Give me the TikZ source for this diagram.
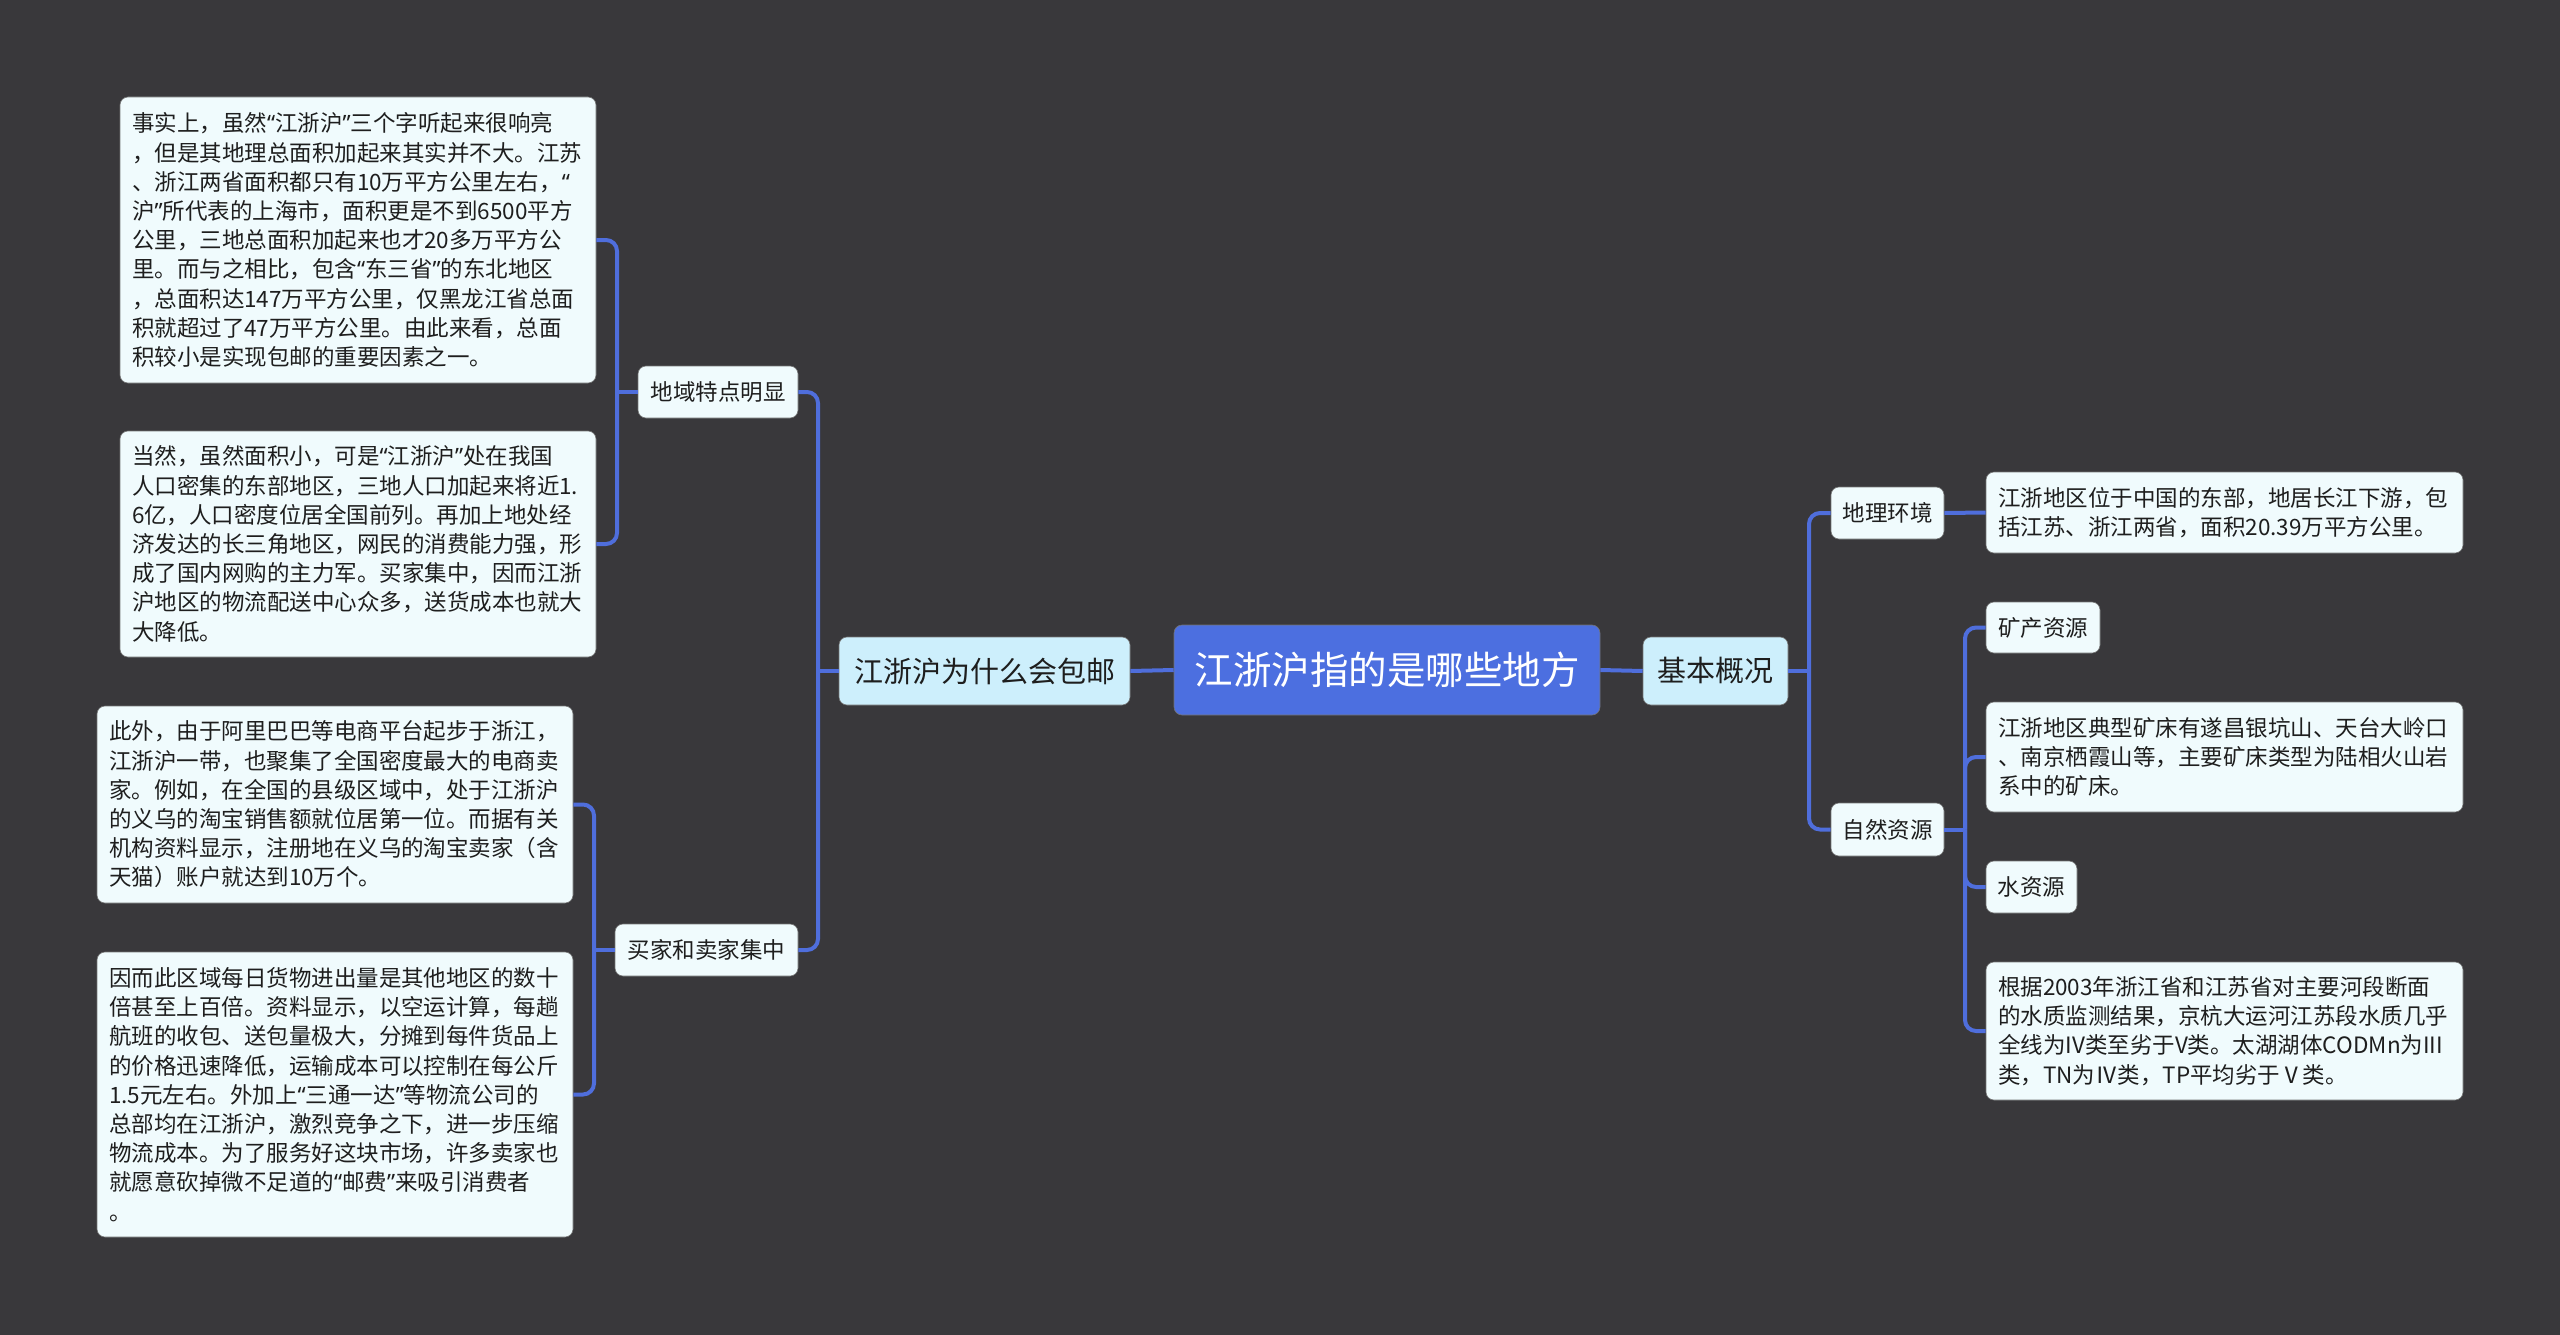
\documentclass[tikz,border=0pt]{standalone}
\usepackage{fontspec}
\setmainfont{Noto Sans CJK SC}
\newfontfamily\qfont{Noto Sans}
\newcommand\oq{{\qfont “}}
\newcommand\cq{{\qfont ”}}
\definecolor{bg}{HTML}{39383B}
\definecolor{rootc}{HTML}{4C6FE0}
\definecolor{linec}{HTML}{4F6EDC}
\definecolor{lonefill}{HTML}{CDEFFC}
\definecolor{leaffill}{HTML}{F0FBFD}
\definecolor{txt}{HTML}{1E1E1E}
\tikzset{
  box/.style={rectangle, rounded corners=8pt, inner sep=0pt, draw=black!55, line width=0.6pt},
  rootbox/.style={box, fill=rootc, text=white, font=\fontsize{38.5}{46}\selectfont},
  lonebox/.style={box, fill=lonefill, text=txt, font=\fontsize{29}{35}\selectfont},
  ltwobox/.style={box, fill=leaffill, text=txt, font=\fontsize{22.5}{29.2}\selectfont},
  leafbox/.style={box, fill=leaffill, text=txt, align=left, inner xsep=12pt,
     text width=#1, font=\fontsize{22.5}{29.2}\selectfont},
  conn/.style={draw=linec, line width=4pt, rounded corners=11pt},
}
\begin{document}
\begin{tikzpicture}[x=1pt,y=-1pt]
\fill[bg] (0,0) rectangle (2560,1335);
\useasboundingbox (0,0) rectangle (2560,1335);

% nodes
\node[rootbox, minimum width=426pt, minimum height=90pt] (root) at (1387,670) {江浙沪指的是哪些地方};
\node[lonebox, minimum width=291pt, minimum height=68pt] (why) at (984.5,671) {江浙沪为什么会包邮};
\node[lonebox, minimum width=145pt, minimum height=68pt] (jb) at (1715.5,671) {基本概况};

\node[ltwobox, minimum width=160pt, minimum height=52pt] (dy) at (718,392) {地域特点明显};
\node[ltwobox, minimum width=183pt, minimum height=52pt] (mj) at (706.5,950) {买家和卖家集中};
\node[ltwobox, minimum width=113pt, minimum height=52pt] (dl) at (1887.5,513) {地理环境};
\node[ltwobox, minimum width=113pt, minimum height=53pt] (zr) at (1887.5,829.5) {自然资源};
\node[ltwobox, minimum width=114pt, minimum height=51pt] (ks) at (2043,627.5) {矿产资源};
\node[ltwobox, minimum width=91pt, minimum height=52pt] (ss) at (2031.5,887) {水资源};

\node[leafbox=452pt, minimum height=286pt] (la) at (358,240) {%
事实上，虽然\oq 江浙沪\cq 三个字听起来很响亮\\
，但是其地理总面积加起来其实并不大。江苏\\
、浙江两省面积都只有10万平方公里左右，\oq\\
沪\cq 所代表的上海市，面积更是不到6500平方\\
公里，三地总面积加起来也才20多万平方公\\
里。而与之相比，包含\oq 东三省\cq 的东北地区\\
，总面积达147万平方公里，仅黑龙江省总面\\
积就超过了47万平方公里。由此来看，总面\\
积较小是实现包邮的重要因素之一。};

\node[leafbox=452pt, minimum height=226pt] (lb) at (358,544) {%
当然，虽然面积小，可是\oq 江浙沪\cq 处在我国\\
人口密集的东部地区，三地人口加起来将近1.\\
6亿，人口密度位居全国前列。再加上地处经\\
济发达的长三角地区，网民的消费能力强，形\\
成了国内网购的主力军。买家集中，因而江浙\\
沪地区的物流配送中心众多，送货成本也就大\\
大降低。};

\node[leafbox=452pt, minimum height=197pt] (lc) at (335,804.5) {%
此外，由于阿里巴巴等电商平台起步于浙江，\\
江浙沪一带，也聚集了全国密度最大的电商卖\\
家。例如，在全国的县级区域中，处于江浙沪\\
的义乌的淘宝销售额就位居第一位。而据有关\\
机构资料显示，注册地在义乌的淘宝卖家（含\\
天猫）账户就达到10万个。};

\node[leafbox=452pt, minimum height=285pt] (ld) at (335,1094.5) {%
因而此区域每日货物进出量是其他地区的数十\\
倍甚至上百倍。资料显示，以空运计算，每趟\\
航班的收包、送包量极大，分摊到每件货品上\\
的价格迅速降低，运输成本可以控制在每公斤\\
1.5元左右。外加上\oq 三通一达\cq 等物流公司的\\
总部均在江浙沪，激烈竞争之下，进一步压缩\\
物流成本。为了服务好这块市场，许多卖家也\\
就愿意砍掉微不足道的\oq 邮费\cq 来吸引消费者\\
。};

\node[leafbox=453pt, minimum height=81pt] (ra) at (2224.5,512.5) {%
江浙地区位于中国的东部，地居长江下游，包\\
括江苏、浙江两省，面积20.39万平方公里。};

\node[leafbox=453pt, minimum height=110pt] (rb) at (2224.5,757) {%
江浙地区典型矿床有遂昌银坑山、天台大岭口\\
、南京栖霞山等，主要矿床类型为陆相火山岩\\
系中的矿床。};

\node[leafbox=453pt, minimum height=138pt] (rc) at (2224.5,1031) {%
根据2003年浙江省和江苏省对主要河段断面\\
的水质监测结果，京杭大运河江苏段水质几乎\\
全线为IV类至劣于V类。太湖湖体CODMn为III\\
类，TN为Ⅳ类，TP平均劣于Ⅴ类。};

% spine coordinates
\coordinate (sw) at (818,671);
\coordinate (sdy) at (617,392);
\coordinate (smj) at (594,950);
\coordinate (se) at (1809,671);
\coordinate (szr) at (1965,829.5);

% root to level 1
\draw[conn] (root.west) -- (why.east);
\draw[conn] (root.east) -- (jb.west);
% left side
\draw[conn] (why.west) -- (sw);
\draw[conn] (sw) |- (dy.east);
\draw[conn] (sw) |- (mj.east);
\draw[conn] (dy.west) -- (sdy);
\draw[conn] (sdy) |- (la.east);
\draw[conn] (sdy) |- (lb.east);
\draw[conn] (mj.west) -- (smj);
\draw[conn] (smj) |- (lc.east);
\draw[conn] (smj) |- (ld.east);
% right side
\draw[conn] (jb.east) -- (se);
\draw[conn] (se) |- (dl.west);
\draw[conn] (se) |- (zr.west);
\draw[conn] (dl.east) -- (ra.west);
\draw[conn] (zr.east) -- (szr);
\draw[conn] (szr) |- (ks.west);
\draw[conn] (szr) |- (rb.west);
\draw[conn] (szr) |- (ss.west);
\draw[conn] (szr) |- (rc.west);
\end{tikzpicture}
\end{document}
